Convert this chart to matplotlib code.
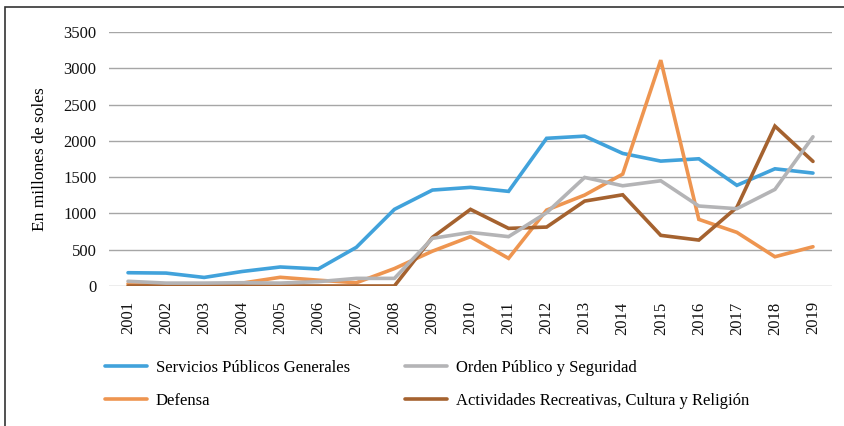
import matplotlib
matplotlib.use("Agg")
import matplotlib.pyplot as plt
from matplotlib.patches import Rectangle

plt.rcParams['font.family'] = ['Liberation Serif', 'DejaVu Serif']

# data (millones de soles)
years = ['2001', '2002', '2003', '2004', '2005', '2006', '2007', '2008', '2009', '2010',
         '2011', '2012', '2013', '2014', '2015', '2016', '2017', '2018', '2019']
servicios = [183, 178, 118, 200, 262, 235, 533, 1056, 1322, 1359,
             1304, 2035, 2065, 1827, 1721, 1753, 1387, 1615, 1556]
orden = [65, 40, 40, 45, 40, 60, 105, 105, 657, 739,
         680, 1010, 1496, 1381, 1450, 1102, 1065, 1331, 2056]
defensa = [30, 20, 20, 40, 120, 80, 45, 240, 480, 680,
           381, 1046, 1253, 1542, 3112, 918, 739, 403, 541]
actividades = [0, 0, 0, 0, 0, 0, 0, 0, 670, 1056,
               794, 812, 1170, 1257, 698, 633, 1084, 2203, 1717]

series = [
    ('Servicios Públicos Generales', servicios, '#41a2db'),
    ('Defensa', defensa, '#ee9550'),
    ('Orden Público y Seguridad', orden, '#b4b4b6'),
    ('Actividades Recreativas, Cultura y Religión', actividades, '#a5622f'),
]

fig = plt.figure(figsize=(8.44, 4.26), dpi=100)
ax = fig.add_axes([109 / 844, 1 - 286 / 426, (832 - 109) / 844, (286 - 32) / 426])

x = range(len(years))
lines = {}
# draw order so brown/gray sit on top like the original
for name, vals, col in [series[0], series[1], series[3], series[2]]:
    ln, = ax.plot(x, vals, color=col, lw=2.6, solid_capstyle='round',
                  solid_joinstyle='miter', label=name)
    lines[name] = ln

ax.set_xlim(-0.5, len(years) - 0.5)
ax.set_ylim(0, 3500)
ax.set_yticks(range(0, 3501, 500))
ax.set_xticks(list(x))
ax.set_xticklabels(years, rotation=90, va='top', ha='center')
ax.tick_params(axis='both', length=0, labelsize=12, colors='#111111')
ax.tick_params(axis='y', pad=9)
ax.tick_params(axis='x', pad=11)
ax.yaxis.grid(True, color='#a6a6a6', lw=1)
ax.set_axisbelow(True)
for s in ax.spines.values():
    s.set_visible(False)
ax.set_ylabel('En millones de soles', fontsize=12.5, labelpad=11)

# legend in two columns below the chart
order = ['Servicios Públicos Generales', 'Defensa',
         'Orden Público y Seguridad', 'Actividades Recreativas, Cultura y Religión']
fig.legend([lines[n] for n in order], order, loc='upper left',
           bbox_to_anchor=(105 / 844, 1 - 360 / 426), ncol=2, frameon=False,
           fontsize=12, handlelength=2.5, handletextpad=0.55,
           columnspacing=3.3, labelspacing=1.0, borderpad=0, borderaxespad=0)

# outer frame
fig.patches.append(Rectangle((5 / 844, -0.1), 1.1, 1 - 7 / 426 + 0.1,
                             transform=fig.transFigure, fill=False,
                             edgecolor='#333333', lw=1.2))

fig.savefig('out.png', dpi=100)
